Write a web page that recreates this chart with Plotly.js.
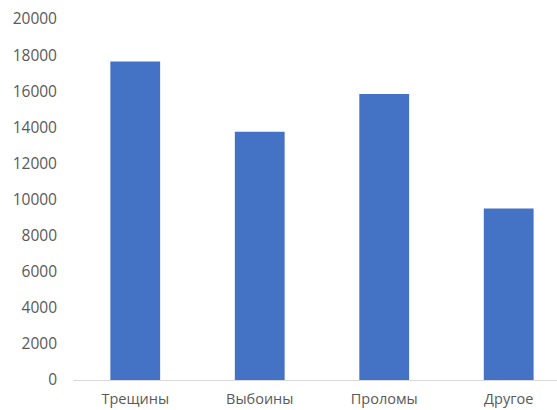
<!DOCTYPE html>
<html>
<head>
<meta charset="utf-8">
<script src="https://cdn.plot.ly/plotly-3.0.1.min.js"></script>
<style>html,body{margin:0;padding:0;background:#fff;}#chart{width:557px;height:410px;}</style>
</head>
<body>
<div id="chart"></div>
<script>
const categories = ["Трещины", "Выбоины", "Проломы", "Другое"];
const values = [17650, 13750, 15850, 9500];
const yTickVals = [0, 2000, 4000, 6000, 8000, 10000, 12000, 14000, 16000, 18000, 20000];

const trace = {
  type: "bar",
  x: categories,
  y: values,
  width: 0.4,
  marker: {color: "#4472C4"},
  hoverinfo: "none"
};

const xFont = {family: "Open Sans, Liberation Sans, sans-serif", size: 14.5, color: "#595959"};
const yFont = {family: "Open Sans, Liberation Sans, sans-serif", size: 15.5, color: "#595959"};

const layout = {
  width: 557,
  height: 410,
  margin: {l: 73, r: 0, t: 19, b: 30},
  paper_bgcolor: "#ffffff",
  plot_bgcolor: "#ffffff",
  showlegend: false,
  font: xFont,
  bargap: 0.6,
  xaxis: {
    type: "category",
    range: [-0.5, 3.388],
    showgrid: false,
    zeroline: false,
    showline: true,
    linecolor: "#d9d9d9",
    linewidth: 1,
    ticks: "",
    ticklabelstandoff: 6,
    automargin: false,
    tickfont: xFont
  },
  yaxis: {
    range: [0, 20000],
    tickvals: yTickVals,
    ticktext: yTickVals.map(String),
    showgrid: false,
    zeroline: false,
    showline: false,
    ticks: "",
    ticklabelstandoff: 15,
    automargin: false,
    tickfont: yFont
  }
};

Plotly.newPlot("chart", [trace], layout, {displayModeBar: false, staticPlot: true});
</script>
</body>
</html>
